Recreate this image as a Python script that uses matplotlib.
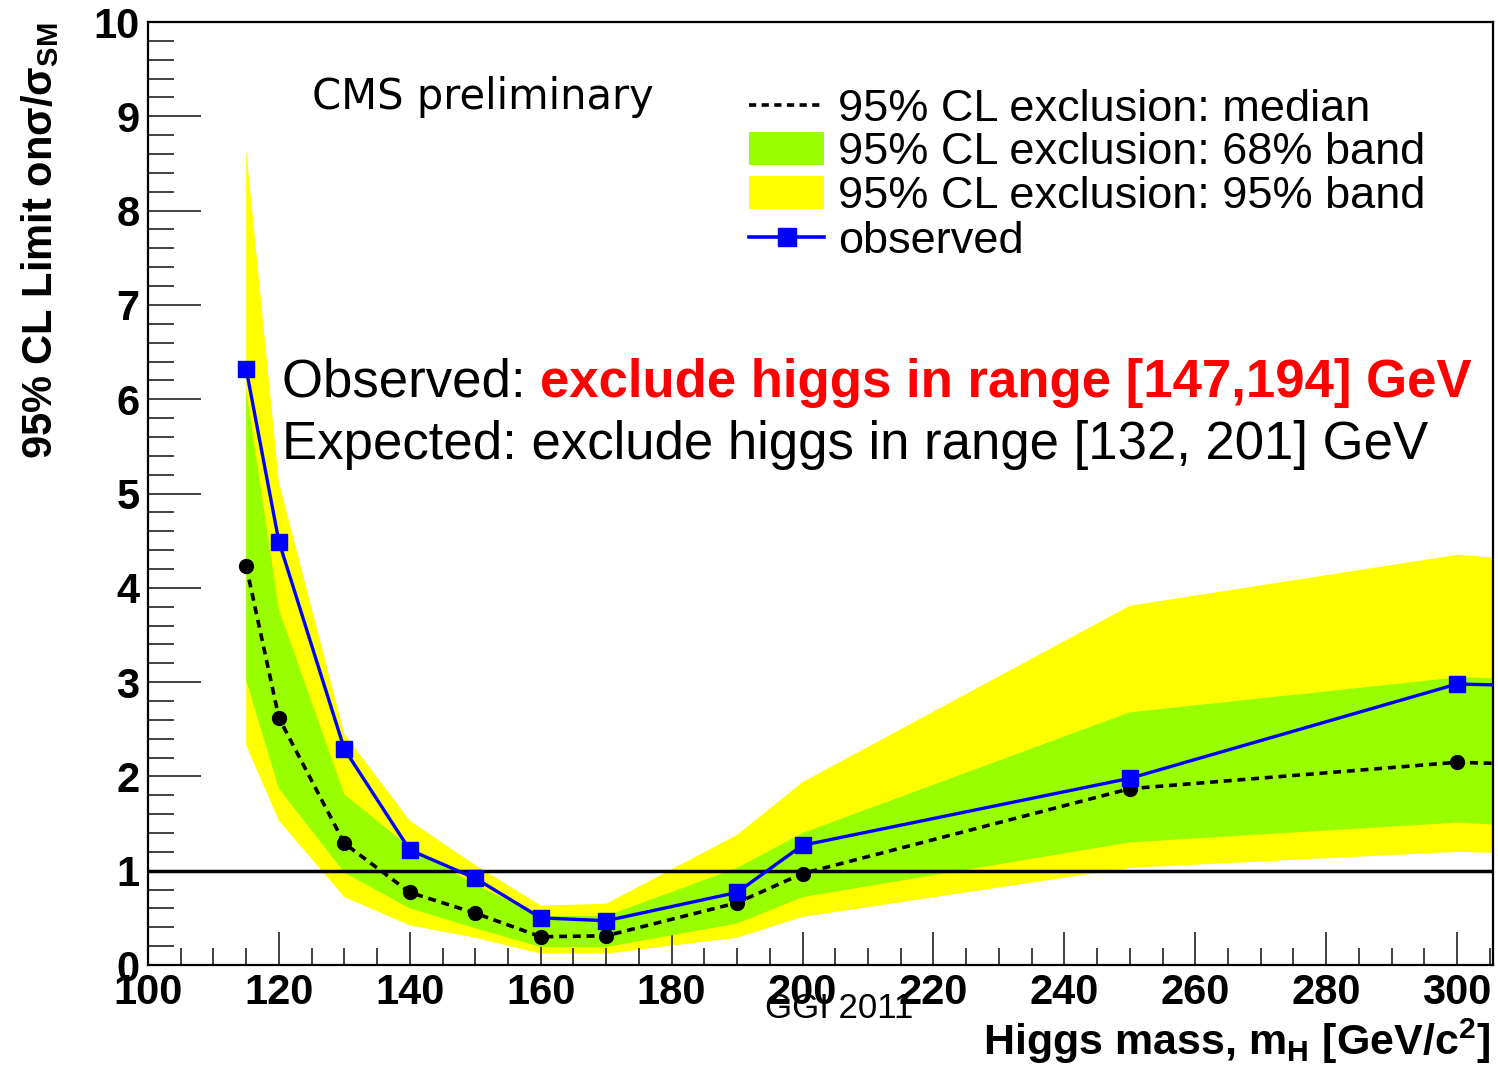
import matplotlib
matplotlib.use("Agg")
import matplotlib.pyplot as plt
from matplotlib.ticker import MultipleLocator
from matplotlib.lines import Line2D
from matplotlib.patches import Rectangle

# ---------------- DATA ----------------
mass = [115, 120, 130, 140, 150, 160, 170, 190, 200, 250, 300, 350]
observed = [6.32, 4.49, 2.29, 1.22, 0.92, 0.50, 0.47, 0.77, 1.27, 1.98, 2.98, 2.90]
median = [4.23, 2.62, 1.29, 0.77, 0.55, 0.30, 0.31, 0.66, 0.97, 1.87, 2.15, 2.05]
band68_hi = [6.10, 3.77, 1.81, 1.25, 0.85, 0.52, 0.52, 1.03, 1.40, 2.68, 3.05, 3.00]
band68_lo = [3.02, 1.87, 0.98, 0.60, 0.39, 0.19, 0.19, 0.44, 0.72, 1.30, 1.51, 1.33]
band95_hi = [8.65, 5.12, 2.45, 1.53, 1.06, 0.63, 0.65, 1.38, 1.94, 3.81, 4.35, 4.08]
band95_lo = [2.33, 1.53, 0.72, 0.42, 0.29, 0.12, 0.12, 0.29, 0.51, 1.03, 1.20, 1.10]

legend_labels = [
    "95% CL exclusion: median",
    "95% CL exclusion: 68% band",
    "95% CL exclusion: 95% band",
    "observed",
]

FONT = "Liberation Sans"
GREEN = "#99ff00"
YELLOW = "#ffff00"
BLUE = "#0000ff"
DASH = (0, (2.2, 1.6))

# ---------------- FIGURE ----------------
W, H = 1498, 1075
fig = plt.figure(figsize=(W / 100, H / 100), dpi=100)
ax = fig.add_axes([0.0988, 0.1023, 0.8979, 0.8772])

ax.fill_between(mass, band95_lo, band95_hi, color=YELLOW, lw=0, zorder=1)
ax.fill_between(mass, band68_lo, band68_hi, color=GREEN, lw=0, zorder=2)
ax.axhline(1.0, color="black", lw=2.5, zorder=3)
ax.plot(mass, median, color="black", ls=DASH, lw=2.6,
        marker="o", ms=10, zorder=4)
ax.plot(mass, observed, color=BLUE, lw=2.4, marker="s", ms=12, zorder=5)

ax.set_xlim(100, 305.5)
ax.set_ylim(0, 10)

# inward ticks, ROOT style
ax.xaxis.set_major_locator(MultipleLocator(20))
ax.xaxis.set_minor_locator(MultipleLocator(5))
ax.yaxis.set_major_locator(MultipleLocator(1))
ax.yaxis.set_minor_locator(MultipleLocator(0.2))
ax.tick_params(which="both", direction="in", top=False, right=False,
               width=1.3, color="#333333")
ax.tick_params(which="major", length=24, labelsize=30, pad=6)
ax.tick_params(which="minor", length=12)
ax.tick_params(axis="y", which="major", length=38)
ax.tick_params(axis="y", which="minor", length=19)
for lab in ax.get_xticklabels() + ax.get_yticklabels():
    lab.set_fontfamily(FONT)
    lab.set_fontweight("bold")
for s in ax.spines.values():
    s.set_linewidth(1.6)

# axis titles
fig.text(0.027, 0.979, "95% CL Limit onσ/σ$_{\\mathregular{SM}}$",
         rotation=90, ha="center", va="top", fontsize=30,
         fontweight="bold", family=FONT)
fig.text(0.995, 0.008, r"Higgs mass, m$_{\mathregular{H}}$ [GeV/c$^{\mathregular{2}}$]",
         ha="right", va="bottom", fontsize=31, fontweight="bold", family=FONT)

fig.text(0.208, 0.910, "CMS preliminary", fontsize=30, family="DejaVu Sans",
         ha="left", va="center")
fig.text(0.511, 0.062, "GGI 2011", fontsize=25, family=FONT,
         ha="left", va="center")

# exclusion ranges
t1 = fig.text(0.188, 0.631, "Observed: ", fontsize=38, family=FONT,
              ha="left", va="baseline")
ax.annotate("exclude higgs in range [147,194] GeV", xy=(1, 0),
            xycoords=t1, ha="left", va="bottom", fontsize=38,
            fontweight="bold", color="#ff0000", family=FONT)
fig.text(0.188, 0.573, "Expected: exclude higgs in range [132, 201] GeV",
         fontsize=38, family=FONT, ha="left", va="baseline")

# legend drawn by hand for tight ROOT-like rows
row_y = [105, 148, 192, 237]
hx0, hx1, tx = 749 / W, 824 / W, 838 / W
fy = [1 - y / H for y in row_y]
box_h = 33 / H
fig.add_artist(Line2D([hx0, hx1], [fy[0], fy[0]], transform=fig.transFigure,
                      color="black", ls=(0, (2, 1.5)), lw=2.6))
fig.add_artist(Rectangle((hx0, fy[1] - box_h / 2), hx1 - hx0, box_h,
                         transform=fig.transFigure, color=GREEN, lw=0))
fig.add_artist(Rectangle((hx0, fy[2] - box_h / 2), hx1 - hx0, box_h,
                         transform=fig.transFigure, color=YELLOW, lw=0))
fig.add_artist(Line2D([hx0, hx1], [fy[3], fy[3]], transform=fig.transFigure,
                      color=BLUE, lw=2.6))
fig.add_artist(Line2D([(hx0 + hx1) / 2], [fy[3]], transform=fig.transFigure,
                      color=BLUE, marker="s", ms=13, ls="none"))
for y, lab in zip(fy, legend_labels):
    fig.text(tx, y, lab, fontsize=32.5, family=FONT, ha="left",
             va="center_baseline")

fig.savefig("out.png", dpi=100)
